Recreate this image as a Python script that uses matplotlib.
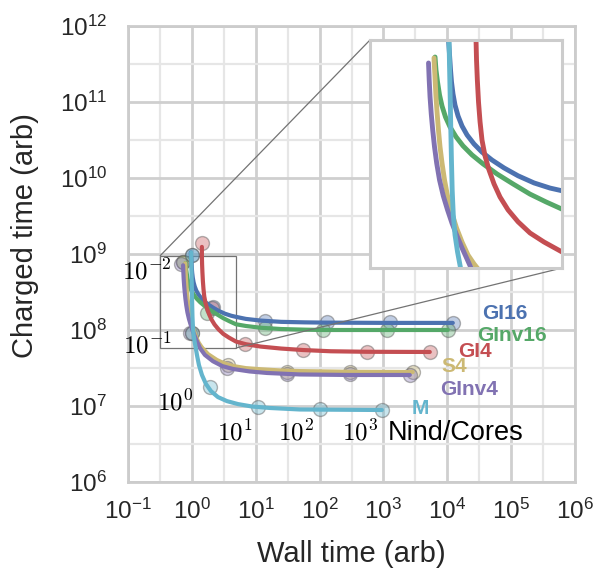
import numpy as np
import matplotlib
matplotlib.use('Agg')
import matplotlib.pyplot as plt
from matplotlib.colors import to_rgba
from matplotlib.ticker import FixedLocator, NullLocator, NullFormatter, LogFormatterSciNotation
from mpl_toolkits.axes_grid1.inset_locator import mark_inset

plt.rcParams.update({
    'font.family': ['Liberation Sans', 'DejaVu Sans'],
    'mathtext.fontset': 'custom',
    'mathtext.rm': 'Liberation Sans',
    'mathtext.it': 'Liberation Sans:italic',
    'mathtext.bf': 'Liberation Sans:bold',
})

# ---------------- data ----------------
series_names = ['GI16', 'GInv16', 'GI4', 'S4', 'GInv4', 'M']
series_colors = ['#4C72B0', '#55A868', '#C44E52', '#CCB974', '#8172B2', '#64B5CD']

# measured points (Nind/Cores = 1e-2 ... 1e3)
gi16_pts_x = [1.0, 2.14, 13.9, 130, 1260, 12200]
gi16_pts_y = [9.7e8, 2.01e8, 1.31e8, 1.27e8, 1.27e8, 1.24e8]
ginv16_pts_x = [0.726, 1.72, 13.9, 113, 1130, 10190]
ginv16_pts_y = [7.85e8, 1.67e8, 1.06e8, 1.0e8, 1.0e8, 1.0e8]
gi4_pts_x = [1.44, 2.06, 6.78, 54.8, 550, 5320]
gi4_pts_y = [1.40e9, 1.95e8, 6.64e7, 5.46e7, 5.14e7, 5.14e7]
s4_pts_x = [0.726, 1.0, 3.67, 30.8, 298, 2880]
s4_pts_y = [7.85e8, 9.14e7, 3.46e7, 2.80e7, 2.80e7, 2.80e7]
ginv4_pts_x = [0.675, 0.933, 3.54, 30.8, 298, 2590]
ginv4_pts_y = [7.39e8, 9.14e7, 3.16e7, 2.64e7, 2.64e7, 2.56e7]
m_pts_x = [1.0, 1.0, 1.92, 10.8, 101, 944]
m_pts_y = [9.7e8, 9.14e7, 1.78e7, 9.7e6, 9.14e6, 8.86e6]

# fitted curves
gi16_line_x = [0.96, 0.970, 0.984, 0.998, 1.012, 1.034, 1.064, 1.111, 1.176, 1.263, 1.396, 1.564,
               1.804, 2.142, 2.615, 3.286, 4.13, 4.90, 7.0, 12, 25, 60, 130, 1260, 12200]
gi16_line_y = [1.05e9, 9.42e8, 7.84e8, 6.53e8, 5.64e8, 4.87e8, 4.25e8, 3.72e8, 3.29e8, 2.95e8, 2.64e8, 2.39e8,
               2.17e8, 1.97e8, 1.79e8, 1.64e8, 1.54e8, 1.49e8, 1.40e8, 1.33e8, 1.28e8, 1.26e8, 1.25e8, 1.24e8, 1.24e8]
ginv16_line_x = [0.800, 0.811, 0.829, 0.853, 0.884, 0.929, 0.991, 1.080, 1.193, 1.356, 1.587, 1.938,
                 2.435, 3.104, 3.90, 4.90, 7.0, 12, 25, 60, 113, 1130, 10190]
ginv16_line_y = [7.65e8, 6.53e8, 5.64e8, 4.81e8, 4.20e8, 3.67e8, 3.25e8, 2.88e8, 2.58e8, 2.31e8, 2.07e8, 1.83e8,
                 1.62e8, 1.43e8, 1.30e8, 1.19e8, 1.13e8, 1.07e8, 1.03e8, 1.01e8, 1.0e8, 1.0e8, 1.0e8]
gi4_line_x = [1.435, 1.436, 1.446, 1.463, 1.488, 1.521, 1.564, 1.633, 1.729, 1.857, 2.023, 2.267, 2.615,
              3.104, 3.79, 4.90, 7.0, 12, 25, 55, 150, 550, 5320]
gi4_line_y = [1.24e9, 9.42e8, 7.38e8, 5.78e8, 4.41e8, 3.46e8, 2.77e8, 2.28e8, 1.92e8, 1.62e8, 1.38e8, 1.18e8, 1.02e8,
              8.89e7, 7.96e7, 7.05e7, 6.5e7, 6.05e7, 5.7e7, 5.45e7, 5.25e7, 5.17e7, 5.14e7]
s4_line_x = [0.788, 0.800, 0.811, 0.825, 0.841, 0.859, 0.884, 0.916, 0.956, 1.012, 1.087, 1.176, 1.281,
             1.396, 1.478, 1.8, 2.47, 3.3, 4.4, 7.0, 11.6, 25, 49, 298, 2880]
s4_line_y = [7.56e8, 5.92e8, 4.69e8, 3.81e8, 3.10e8, 2.55e8, 2.09e8, 1.70e8, 1.40e8, 1.15e8, 9.46e7, 7.96e7, 6.79e7,
             6.09e7, 5.73e7, 4.8e7, 4.03e7, 3.6e7, 3.36e7, 3.15e7, 3.05e7, 2.93e7, 2.88e7, 2.82e7, 2.80e7]
ginv4_line_x = [0.729, 0.736, 0.745, 0.758, 0.774, 0.794, 0.819, 0.853, 0.900, 0.956, 1.020, 1.095, 1.176,
                1.263, 1.337, 1.6, 2.14, 3.0, 4.4, 8.0, 15, 49, 300, 2590]
ginv4_line_y = [7.11e8, 5.78e8, 4.69e8, 3.81e8, 3.13e8, 2.55e8, 2.09e8, 1.70e8, 1.40e8, 1.18e8, 1.00e8, 8.57e7, 7.40e7,
                6.47e7, 5.80e7, 4.7e7, 3.88e7, 3.35e7, 3.07e7, 2.85e7, 2.72e7, 2.6e7, 2.56e7, 2.56e7]
m_line_x = [0.975, 0.977, 0.985, 0.994, 1.002, 1.011, 1.022, 1.038, 1.064, 1.103, 1.151, 1.202, 1.291,
            1.439, 1.662, 1.990, 2.562, 3.542, 5.266, 8.72, 16.7, 49.2, 944]
m_line_y = [1.05e9, 9.42e8, 6.53e8, 4.52e8, 3.13e8, 2.17e8, 1.50e8, 1.11e8, 8.68e7, 7.05e7, 5.80e7, 4.69e7, 3.46e7,
            2.56e7, 1.95e7, 1.57e7, 1.31e7, 1.16e7, 1.06e7, 9.85e6, 9.42e6, 9.0e6, 8.86e6]

# series label positions
label_x = [3.46e4, 2.9e4, 1.46e4, 8200, 7640, 2780]
label_y = [1.63e8, 8.34e7, 5.14e7, 3.26e7, 1.67e7, 9.4e6]

# Nind/Cores annotations
ann_text = ['$10^{-2}$', '$10^{-1}$', '$10^{0}$', '$10^{1}$', '$10^{2}$', '$10^{3}$']
ann_x = [0.0805, 0.0835, 0.284, 2.47, 22.2, 223]
ann_y = [4.69e8, 4.98e7, 8.86e6, 3.57e6, 3.57e6, 3.57e6]
nind_label = 'Nind/Cores'
nind_x, nind_y = 1170, 3.57e6

x_major = 10.0 ** np.arange(-1, 7)
y_major = 10.0 ** np.arange(6, 13)
x_minor = 10.0 ** (np.arange(-1, 6) + 0.5)
y_minor = 10.0 ** (np.arange(6, 12) + 0.5)

inset_xlim = (10 ** -0.5, 10 ** 0.69)
inset_ylim = (10 ** 7.763, 10 ** 8.974)

pts = [(gi16_pts_x, gi16_pts_y), (ginv16_pts_x, ginv16_pts_y), (gi4_pts_x, gi4_pts_y),
       (s4_pts_x, s4_pts_y), (ginv4_pts_x, ginv4_pts_y), (m_pts_x, m_pts_y)]
lines = [(gi16_line_x, gi16_line_y), (ginv16_line_x, ginv16_line_y), (gi4_line_x, gi4_line_y),
         (s4_line_x, s4_line_y), (ginv4_line_x, ginv4_line_y), (m_line_x, m_line_y)]

# ---------------- figure ----------------
fig = plt.figure(figsize=(6.08, 5.69), dpi=100)
ax = fig.add_axes([128 / 608, 1 - 482 / 569, 447 / 608, 456 / 569])
ax.set_xscale('log')
ax.set_yscale('log')
ax.set_xlim(1e-1, 1e6)
ax.set_ylim(1e6, 1e12)

ax.xaxis.set_major_locator(FixedLocator(x_major))
ax.yaxis.set_major_locator(FixedLocator(y_major))
ax.xaxis.set_minor_locator(FixedLocator(x_minor))
ax.yaxis.set_minor_locator(FixedLocator(y_minor))
ax.xaxis.set_major_formatter(LogFormatterSciNotation())
ax.yaxis.set_major_formatter(LogFormatterSciNotation())
ax.xaxis.set_minor_formatter(NullFormatter())
ax.yaxis.set_minor_formatter(NullFormatter())

ax.set_axisbelow(True)
ax.grid(which='major', color='#cfcfcf', lw=2.0)
ax.grid(which='minor', color='#e6e6e6', lw=1.6)
for s in ax.spines.values():
    s.set_color('#cccccc')
    s.set_linewidth(2.0)
ax.tick_params(which='both', length=0, labelsize=17.5, labelcolor='#262626')
ax.tick_params(axis='x', pad=12)
ax.tick_params(axis='y', pad=15)

ax.set_xlabel('Wall time (arb)', fontsize=21, color='#262626')
ax.set_ylabel('Charged time (arb)', fontsize=21, color='#262626')
ax.xaxis.set_label_coords(0.5, -0.127)
ax.yaxis.set_label_coords(-0.200, 0.54)

for (px, py), c in zip(pts, series_colors):
    ax.plot(px, py, 'o', ms=10, mfc=to_rgba(c, 0.35), mec=(0.35, 0.35, 0.35, 0.45),
            mew=1.0, zorder=3)
for (lx, ly), c in zip(lines, series_colors):
    ax.plot(lx, ly, '-', color=c, lw=3.0, solid_capstyle='round', solid_joinstyle='round', zorder=4)

for name, c, x, y in zip(series_names, series_colors, label_x, label_y):
    ax.text(x, y, name, color=c, fontsize=15, fontweight='bold', ha='left', va='center')

for t, x, y in zip(ann_text, ann_x, ann_y):
    ax.text(x, y, t, fontsize=18, math_fontfamily='cm', ha='left', va='baseline', color='black')
ax.text(nind_x, nind_y, nind_label, fontsize=19.5, ha='left', va='baseline', color='black')

# ---------------- inset ----------------
axins = fig.add_axes([370 / 608, 1 - 268 / 569, 192 / 608, 228 / 569])
axins.set_xscale('log')
axins.set_yscale('log')
for (lx, ly), c in zip(lines, series_colors):
    axins.plot(lx, ly, '-', color=c, lw=3.5, solid_capstyle='round', solid_joinstyle='round')
axins.set_xlim(*inset_xlim)
axins.set_ylim(*inset_ylim)
for a in (axins.xaxis, axins.yaxis):
    a.set_major_locator(NullLocator())
    a.set_minor_locator(NullLocator())
for s in axins.spines.values():
    s.set_color('#cccccc')
    s.set_linewidth(2.2)

mark_inset(ax, axins, loc1=2, loc2=4, fc='none', ec='0.45', lw=0.9)

fig.savefig('out.png', dpi=100)
